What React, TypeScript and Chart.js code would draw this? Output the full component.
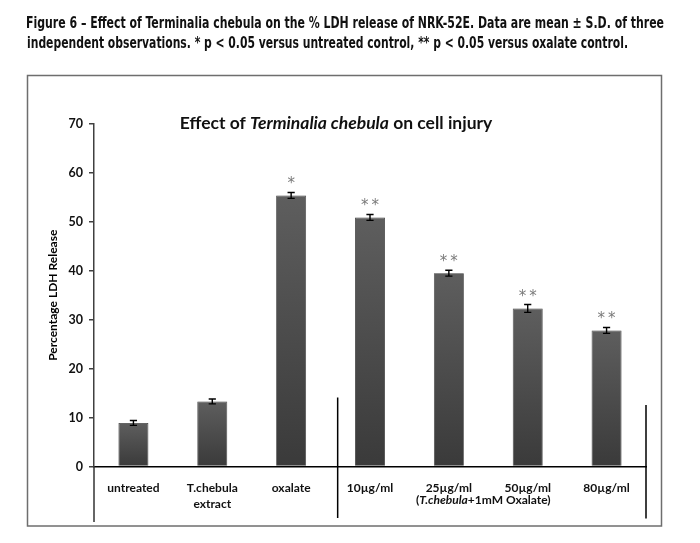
import React, { useEffect, useLayoutEffect, useRef } from "react";
import { Chart, registerables } from "chart.js";

Chart.register(...registerables);

// ---------- data ----------
const captionLines = [
  "Figure 6 \u2013 Effect of Terminalia chebula on the % LDH release of NRK-52E. Data are mean \u00b1 S.D. of three",
  "independent observations. * p < 0.05 versus untreated control, ** p < 0.05 versus oxalate control.",
];
const captionWidths = [638, 601];

const titleParts: [string, boolean][] = [
  ["Effect of ", false],
  ["Terminalia chebula", true],
  [" on cell injury", false],
];

const categories = [
  ["untreated"],
  ["T.chebula", "extract"],
  ["oxalate"],
  ["10\u00b5g/ml"],
  ["25\u00b5g/ml"],
  ["50\u00b5g/ml"],
  ["80\u00b5g/ml"],
];
const ldhMean = [8.9, 13.3, 55.4, 50.9, 39.5, 32.3, 27.8];
const ldhSD = [0.5, 0.5, 0.6, 0.6, 0.6, 0.8, 0.6];
const significance = ["", "", "*", "*\u2009*", "*\u2009*", "*\u2009*", "*\u2009*"];

const groupLabelParts: [string, boolean][] = [
  ["(", false],
  ["T.chebula", true],
  ["+1mM Oxalate)", false],
];
const yAxisTitle = "Percentage LDH Release";
const yMin = 0;
const yMax = 70;
const yStep = 10;

const FONT = "Lato, 'Open Sans', sans-serif";

function drawParts(ctx: CanvasRenderingContext2D, parts: [string, boolean][], cx: number, baseline: number, size: number) {
  const fontFor = (it: boolean) => `${it ? "italic " : ""}bold ${size}px ${FONT}`;
  let total = 0;
  for (const [t, it] of parts) {
    ctx.font = fontFor(it);
    total += ctx.measureText(t).width;
  }
  let x = cx - total / 2;
  ctx.textAlign = "left";
  ctx.textBaseline = "alphabetic";
  for (const [t, it] of parts) {
    ctx.font = fontFor(it);
    ctx.fillText(t, x, baseline);
    x += ctx.measureText(t).width;
  }
}

const decorPlugin = {
  id: "decor",
  beforeDraw(chart: any) {
    const ctx = chart.ctx as CanvasRenderingContext2D;
    ctx.save();
    ctx.fillStyle = "#ffffff";
    ctx.fillRect(0, 0, chart.width, chart.height);
    ctx.strokeStyle = "#6e6e6e";
    ctx.lineWidth = 1.5;
    ctx.strokeRect(27.5, 75.5, 634, 450.5);
    ctx.restore();
  },
  afterDatasetsDraw(chart: any) {
    const ctx = chart.ctx as CanvasRenderingContext2D;
    const y = chart.scales.y;
    const meta = chart.getDatasetMeta(0);
    ctx.save();
    meta.data.forEach((bar: any, i: number) => {
      const cx = bar.x;
      const yt = y.getPixelForValue(ldhMean[i] + ldhSD[i]);
      const yb = y.getPixelForValue(ldhMean[i] - ldhSD[i]);
      ctx.strokeStyle = "#000";
      ctx.lineWidth = 1.4;
      ctx.beginPath();
      ctx.moveTo(cx, yt);
      ctx.lineTo(cx, yb);
      ctx.moveTo(cx - 3.6, yt);
      ctx.lineTo(cx + 3.6, yt);
      ctx.moveTo(cx - 3.6, yb);
      ctx.lineTo(cx + 3.6, yb);
      ctx.stroke();
      if (significance[i]) {
        ctx.fillStyle = "#7a7a7a";
        ctx.font = "15px 'DejaVu Sans', sans-serif";
        ctx.textAlign = "center";
        ctx.textBaseline = "alphabetic";
        const top = y.getPixelForValue(ldhMean[i]);
        ctx.fillText(significance[i], cx, top - 16 + 9);
      }
    });
    ctx.restore();
  },
  afterDraw(chart: any) {
    const ctx = chart.ctx as CanvasRenderingContext2D;
    const { chartArea } = chart;
    const x = chart.scales.x;
    ctx.save();
    // chart title
    ctx.fillStyle = "#111";
    drawParts(ctx, titleParts, chartArea.left + (chartArea.right - chartArea.left) / 2 - 34, 128.5, 17.5);
    // group label under the dose bars
    ctx.fillStyle = "#111";
    const gx = (x.getPixelForValue(4) + x.getPixelForValue(5)) / 2 - 5;
    drawParts(ctx, groupLabelParts, gx, chartArea.bottom + 37.5, 12);
    // vertical separators
    const step = x.getPixelForValue(1) - x.getPixelForValue(0);
    const sepX = (x.getPixelForValue(2) + x.getPixelForValue(3)) / 2 + 0.09 * step;
    ctx.strokeStyle = "#000";
    ctx.lineWidth = 1.5;
    ctx.beginPath();
    ctx.moveTo(sepX, chartArea.bottom - 69);
    ctx.lineTo(sepX, chartArea.bottom + 51.5);
    ctx.moveTo(chartArea.right, chartArea.bottom - 61.5);
    ctx.lineTo(chartArea.right, chartArea.bottom + 52);
    ctx.stroke();
    ctx.strokeStyle = "#333";
    ctx.beginPath();
    ctx.moveTo(chartArea.left, chartArea.bottom);
    ctx.lineTo(chartArea.left, chartArea.bottom + 55.5);
    ctx.stroke();
    ctx.restore();
  },
};

function Caption() {
  const refs = useRef<(HTMLSpanElement | null)[]>([]);
  useLayoutEffect(() => {
    const fit = () => {
      refs.current.forEach((el, i) => {
        if (!el) return;
        el.style.transform = "none";
        const w = el.getBoundingClientRect().width;
        if (w > 0) el.style.transform = `scaleX(${captionWidths[i] / w})`;
      });
    };
    fit();
    if ((document as any).fonts?.ready) (document as any).fonts.ready.then(fit);
  }, []);
  return (
    <div style={{ position: "absolute", left: 26, top: 12.5 }}>
      {captionLines.map((line, i) => (
        <div key={i} style={{ height: 20, lineHeight: "20px", whiteSpace: "nowrap" }}>
          <span
            ref={(el) => {
              refs.current[i] = el;
            }}
            style={{
              display: "inline-block",
              transformOrigin: "0 0",
              fontFamily: "'Liberation Sans Narrow', 'DejaVu Sans Condensed', 'Liberation Sans', sans-serif",
              fontWeight: "bold",
              fontSize: 16,
              color: "#111",
              marginLeft: i === 1 ? 0.7 : 0,
            }}
          >
            {line}
          </span>
        </div>
      ))}
    </div>
  );
}

export default function App() {
  const canvasRef = useRef<HTMLCanvasElement | null>(null);

  useEffect(() => {
    const canvas = canvasRef.current;
    if (!canvas) return;
    const chart = new Chart(canvas, {
      type: "bar",
      data: {
        labels: categories,
        datasets: [
          {
            data: ldhMean,
            backgroundColor: (c: any) => {
              const chartObj = c.chart;
              const ys = chartObj.scales?.y;
              if (!ys || c.parsed == null) return "#505050";
              const top = ys.getPixelForValue(c.parsed.y);
              const bottom = ys.getPixelForValue(0);
              if (!isFinite(top) || !isFinite(bottom) || top === bottom) return "#505050";
              const g = chartObj.ctx.createLinearGradient(0, top, 0, bottom);
              g.addColorStop(0, "#5e5e5e");
              g.addColorStop(1, "#3a3a3a");
              return g;
            },
            borderColor: "#363636",
            borderWidth: 0.8,
            barPercentage: 0.38,
            categoryPercentage: 1,
          },
        ],
      },
      options: {
        responsive: false,
        animation: false,
        devicePixelRatio: 1,
        layout: { padding: { left: 27, right: 54, top: 124, bottom: 17 } },
        plugins: {
          legend: { display: false },
          title: { display: false },
          tooltip: { enabled: false },
        },
        scales: {
          x: {
            grid: { display: false, drawTicks: false },
            border: { display: true, color: "#000", width: 1.5 },
            ticks: {
              padding: 14,
              color: "#111",
              font: { family: FONT, size: 12, weight: "bold", lineHeight: 1.3 },
              maxRotation: 0,
              autoSkip: false,
            },
            afterFit: (s: any) => {
              s.height = 59.5;
            },
          },
          y: {
            min: yMin,
            max: yMax,
            grid: { drawOnChartArea: false, drawTicks: true, tickLength: 5, color: "#404040", lineWidth: 1.5 },
            border: { display: true, color: "#404040", width: 1.5 },
            ticks: {
              stepSize: yStep,
              padding: 6,
              color: "#111",
              font: { family: FONT, size: 12.5, weight: "bold" },
            },
            title: {
              display: true,
              text: yAxisTitle,
              color: "#000",
              font: { family: FONT, size: 12, weight: "bold", lineHeight: 1.2 },
              padding: { top: 18.8, bottom: 0 },
            },
            afterFit: (s: any) => {
              s.width = 67;
            },
          },
        },
      },
      plugins: [decorPlugin],
    } as any);
    return () => chart.destroy();
  }, []);

  return (
    <div style={{ position: "fixed", left: 0, top: 0, width: 700, height: 543, background: "#fff" }}>
      <canvas ref={canvasRef} width={700} height={543} style={{ position: "absolute", left: 0, top: 0, width: 700, height: 543 }} />
      <Caption />
    </div>
  );
}
